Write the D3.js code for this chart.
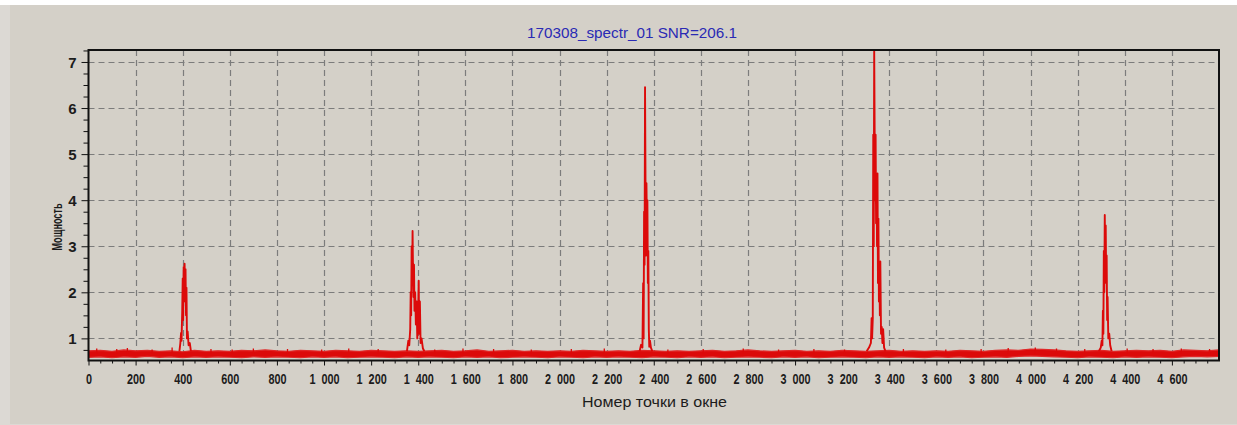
<!DOCTYPE html>
<html>
<head>
<meta charset="utf-8">
<script src="https://cdn.jsdelivr.net/npm/d3@7"></script>
<style>
  html, body { margin: 0; padding: 0; background: #ffffff; }
  svg { display: block; }
</style>
</head>
<body>
<svg id="chart" width="1237" height="425"></svg>
<script>
// ---- data ----
const chartTitle = "170308_spectr_01 SNR=206.1";
const xTitle = "Номер точки в окне";
const yTitle = "Мощность";

const xDomain = [0, 4800];
const yDomain = [0.52, 7.26];

const xTicks = [0, 200, 400, 600, 800, 1000, 1200, 1400, 1600, 1800, 2000, 2200,
                2400, 2600, 2800, 3000, 3200, 3400, 3600, 3800, 4000, 4200, 4400, 4600];
const yTicks = [1, 2, 3, 4, 5, 6, 7];

// noise floor envelope, sampled every 50 points (0 … 4800)
const noiseX = [
  0, 50, 100, 150, 200, 250, 300, 350, 400, 450,
  500, 550, 600, 650, 700, 750, 800, 850, 900, 950,
  1000, 1050, 1100, 1150, 1200, 1250, 1300, 1350, 1400, 1450,
  1500, 1550, 1600, 1650, 1700, 1750, 1800, 1850, 1900, 1950,
  2000, 2050, 2100, 2150, 2200, 2250, 2300, 2350, 2400, 2450,
  2500, 2550, 2600, 2650, 2700, 2750, 2800, 2850, 2900, 2950,
  3000, 3050, 3100, 3150, 3200, 3250, 3300, 3350, 3400, 3450,
  3500, 3550, 3600, 3650, 3700, 3750, 3800, 3850, 3900, 3950,
  4000, 4050, 4100, 4150, 4200, 4250, 4300, 4350, 4400, 4450,
  4500, 4550, 4600, 4650, 4700, 4750, 4800
];
const noiseHigh = [
  0.73, 0.74, 0.72, 0.75, 0.73, 0.74, 0.72, 0.73, 0.71, 0.74,
  0.72, 0.73, 0.72, 0.74, 0.73, 0.75, 0.73, 0.72, 0.74, 0.73,
  0.72, 0.74, 0.73, 0.72, 0.74, 0.73, 0.72, 0.73, 0.72, 0.73,
  0.74, 0.72, 0.73, 0.75, 0.72, 0.73, 0.74, 0.72, 0.73, 0.72,
  0.73, 0.72, 0.74, 0.73, 0.72, 0.73, 0.72, 0.74, 0.73, 0.72,
  0.73, 0.72, 0.73, 0.74, 0.72, 0.73, 0.75, 0.73, 0.72, 0.73,
  0.74, 0.72, 0.73, 0.72, 0.74, 0.73, 0.72, 0.73, 0.74, 0.72,
  0.73, 0.72, 0.73, 0.72, 0.74, 0.73, 0.72, 0.74, 0.75, 0.74,
  0.77, 0.76, 0.75, 0.73, 0.72, 0.73, 0.74, 0.72, 0.73, 0.74,
  0.73, 0.74, 0.72, 0.75, 0.74, 0.73, 0.75
];
const noiseLow = [
  0.59, 0.60, 0.58, 0.60, 0.59, 0.61, 0.59, 0.60, 0.58, 0.60,
  0.59, 0.60, 0.59, 0.58, 0.60, 0.59, 0.60, 0.59, 0.58, 0.60,
  0.59, 0.60, 0.58, 0.59, 0.60, 0.59, 0.58, 0.60, 0.59, 0.60,
  0.59, 0.58, 0.60, 0.59, 0.60, 0.58, 0.59, 0.60, 0.59, 0.58,
  0.60, 0.59, 0.58, 0.60, 0.59, 0.60, 0.59, 0.58, 0.60, 0.59,
  0.58, 0.60, 0.59, 0.60, 0.58, 0.59, 0.60, 0.59, 0.58, 0.60,
  0.59, 0.60, 0.58, 0.59, 0.60, 0.59, 0.58, 0.60, 0.59, 0.60,
  0.59, 0.58, 0.60, 0.59, 0.60, 0.58, 0.59, 0.60, 0.59, 0.61,
  0.62, 0.61, 0.60, 0.59, 0.58, 0.60, 0.59, 0.58, 0.60, 0.59,
  0.60, 0.59, 0.58, 0.60, 0.61, 0.60, 0.61
];

// isolated noise spikes rising above the floor: [point index, power]
const noiseSpikes = [[35,0.78],[120,0.77],[165,0.79],[270,0.76],[355,0.80],[520,0.77],[610,0.76],
  [700,0.78],[845,0.77],[990,0.76],[1105,0.78],[1230,0.77],[1470,0.76],[1590,0.78],[1720,0.77],
  [1880,0.76],[2050,0.77],[2190,0.78],[2460,0.76],[2610,0.77],[2780,0.78],[2930,0.76],[3080,0.77],
  [3210,0.76],[3460,0.77],[3640,0.76],[3790,0.77],[3905,0.79],[4020,0.80],[4110,0.78],[4230,0.77],
  [4410,0.78],[4520,0.77],[4640,0.78],[4760,0.77]];

// spectral lines: [point index, power]
const peak1 = [[386,0.72],[390,0.90],[393,1.12],[395,0.95],[398,1.60],[400,2.30],[402,1.40],
  [404,2.55],[406,1.80],[408,2.62],[410,2.00],[412,2.50],[414,1.50],[416,2.10],[418,1.00],
  [421,1.15],[425,0.85],[430,0.90],[435,0.72]];
const peak2 = [[1352,0.72],[1358,0.95],[1362,0.85],[1366,1.20],[1368,2.00],[1370,1.50],[1372,3.00],
  [1374,2.20],[1376,3.33],[1378,2.40],[1380,1.90],[1382,2.60],[1384,1.60],[1387,2.00],[1390,1.30],
  [1393,1.80],[1396,1.00],[1399,1.40],[1402,2.25],[1404,1.10],[1407,1.80],[1410,0.90],[1414,1.00],
  [1420,0.78],[1426,0.72]];
const peak3 = [[2340,0.72],[2346,0.86],[2352,0.80],[2355,2.20],[2357,1.00],[2359,3.75],[2361,2.60],
  [2363,6.45],[2365,4.37],[2367,2.80],[2369,4.37],[2371,3.40],[2373,4.00],[2375,2.20],[2377,2.90],
  [2379,1.20],[2381,0.82],[2384,0.95],[2388,0.80],[2394,0.72]];
const peak4 = [[3304,0.72],[3314,0.80],[3322,0.90],[3325,1.44],[3327,1.00],[3330,1.44],[3332,5.42],
  [3334,3.00],[3336,7.26],[3338,5.42],[3340,4.00],[3342,5.42],[3344,3.50],[3346,4.58],[3348,3.00],
  [3350,4.58],[3352,2.20],[3354,3.60],[3356,1.80],[3358,2.67],[3360,1.50],[3362,2.67],[3365,1.10],
  [3368,1.25],[3371,0.90],[3374,1.20],[3378,0.80],[3384,0.72]];
const peak5 = [[4290,0.72],[4298,0.80],[4302,0.95],[4305,0.85],[4307,1.60],[4309,1.10],[4311,2.90],
  [4313,2.00],[4315,3.68],[4317,2.60],[4319,3.45],[4321,2.20],[4323,2.80],[4325,1.40],[4327,1.90],
  [4330,1.00],[4334,1.10],[4338,0.85],[4344,0.72]];
const peaks = [peak1, peak2, peak3, peak4, peak5];

// ---- layout ----
const W = 1237, H = 425;
const plot = { left: 88.5, right: 1219, top: 50, bottom: 360.5 };
const FONT = "'Liberation Sans', Arial, sans-serif";

const svg = d3.select("#chart");

// window panel
svg.append("rect").attr("x", 0).attr("y", 0).attr("width", W).attr("height", H).attr("fill", "#dcd9d4");
svg.append("rect").attr("x", 10).attr("y", 5).attr("width", W - 10).attr("height", 419).attr("fill", "#d4d0c8");
svg.append("rect").attr("x", 0).attr("y", 0).attr("width", W).attr("height", 5).attr("fill", "#ffffff");

const x = d3.scaleLinear().domain(xDomain).range([plot.left, plot.right]);
const y = d3.scaleLinear().domain(yDomain).range([plot.bottom, plot.top]);

svg.append("defs").append("clipPath").attr("id", "plotclip")
  .append("rect")
  .attr("x", plot.left).attr("y", plot.top)
  .attr("width", plot.right - plot.left).attr("height", plot.bottom - plot.top);

// dashed grid
const grid = svg.append("g").attr("stroke", "#7c7c7c").attr("stroke-width", 1.2)
  .attr("stroke-dasharray", "6,4").attr("fill", "none");
grid.selectAll("line.v").data(xTicks.filter(d => d > xDomain[0])).join("line")
  .attr("class", "v")
  .attr("x1", d => Math.round(x(d)) + 0.5).attr("x2", d => Math.round(x(d)) + 0.5)
  .attr("y1", plot.top).attr("y2", plot.bottom);
grid.selectAll("line.h").data(yTicks).join("line")
  .attr("class", "h")
  .attr("y1", d => Math.round(y(d)) + 0.5).attr("y2", d => Math.round(y(d)) + 0.5)
  .attr("x1", plot.left).attr("x2", plot.right);

// signal
const RED = "#dc0a0a";
const traces = svg.append("g").attr("clip-path", "url(#plotclip)");
const noiseRows = noiseX.map((d, i) => ({ x: d, lo: noiseLow[i], hi: noiseHigh[i] }));
traces.append("path")
  .datum(noiseRows)
  .attr("fill", RED)
  .attr("stroke", "#e02828")
  .attr("stroke-width", 1.2)
  .attr("d", d3.area().x(d => x(d.x)).y0(d => y(d.lo)).y1(d => y(d.hi)));

traces.selectAll("line.spike").data(noiseSpikes).join("line")
  .attr("class", "spike")
  .attr("x1", d => x(d[0])).attr("x2", d => x(d[0]))
  .attr("y1", y(0.66)).attr("y2", d => y(d[1]))
  .attr("stroke", RED).attr("stroke-width", 1.3);

const line = d3.line().x(d => x(d[0])).y(d => y(d[1]));
traces.selectAll("path.peak").data(peaks).join("path")
  .attr("class", "peak")
  .attr("fill", "none")
  .attr("stroke", RED)
  .attr("stroke-width", 1.9)
  .attr("stroke-linejoin", "round")
  .attr("d", line);

// axes
const fmtLocale = d3.formatLocale({ decimal: ",", thousands: "\u2007", grouping: [3], currency: ["", ""] });
const fmtX = fmtLocale.format(",");

const xMinor = d3.range(xDomain[0], xDomain[1] + 1, 50).filter(d => d % 200 !== 0);
const yMinor = d3.range(0.75, 7.26, 0.25).filter(d => Math.abs(d - Math.round(d)) > 1e-6);

const xAxisG = svg.append("g").attr("transform", `translate(0,${plot.bottom})`);
xAxisG.append("g").call(d3.axisBottom(x).tickValues(xMinor).tickSize(3).tickFormat(""))
  .call(g => g.select(".domain").remove());
const xMajor = xAxisG.append("g").call(d3.axisBottom(x).tickValues(xTicks).tickSize(5).tickFormat(fmtX));
xMajor.select(".domain").remove();
xAxisG.selectAll("line").attr("stroke", "#111");
xMajor.selectAll("text")
  .attr("y", 23.5).attr("dy", 0)
  .attr("transform", "scale(0.7,1)")
  .attr("fill", "#1c1c1c")
  .style("font-family", FONT)
  .style("font-size", "15.5px")
  .style("font-weight", "bold");

const yAxisG = svg.append("g").attr("transform", `translate(${plot.left},0)`);
yAxisG.append("g").call(d3.axisLeft(y).tickValues(yMinor).tickSize(5).tickFormat(""))
  .call(g => g.select(".domain").remove());
const yMajor = yAxisG.append("g").call(d3.axisLeft(y).tickValues(yTicks).tickSize(7).tickFormat(d3.format("d")));
yMajor.select(".domain").remove();
yAxisG.selectAll("line").attr("stroke", "#111");
yMajor.selectAll("text")
  .attr("x", -12).attr("dy", "0.36em")
  .attr("fill", "#1c1c1c")
  .style("font-family", FONT)
  .style("font-size", "15px")
  .style("font-weight", "bold");

// plot frame
svg.append("rect")
  .attr("x", plot.left).attr("y", plot.top)
  .attr("width", plot.right - plot.left).attr("height", plot.bottom - plot.top)
  .attr("fill", "none").attr("stroke", "#111").attr("stroke-width", 2);

// titles
svg.append("text")
  .attr("x", 632).attr("y", 38)
  .attr("text-anchor", "middle")
  .attr("textLength", 210).attr("lengthAdjust", "spacingAndGlyphs")
  .attr("fill", "#2a2ab4")
  .style("font-family", FONT)
  .style("font-size", "14px")
  .text(chartTitle);

svg.append("text")
  .attr("x", 654.5).attr("y", 407)
  .attr("text-anchor", "middle")
  .attr("textLength", 145).attr("lengthAdjust", "spacingAndGlyphs")
  .attr("fill", "#1c1c1c")
  .style("font-family", FONT)
  .style("font-size", "15px")
  .text(xTitle);

svg.append("text")
  .attr("transform", "translate(62,227) rotate(-90)")
  .attr("text-anchor", "middle")
  .attr("textLength", 47).attr("lengthAdjust", "spacingAndGlyphs")
  .attr("fill", "#1c1c1c")
  .style("font-family", FONT)
  .style("font-size", "15px")
  .style("font-weight", "bold")
  .text(yTitle);
</script>
</body>
</html>
